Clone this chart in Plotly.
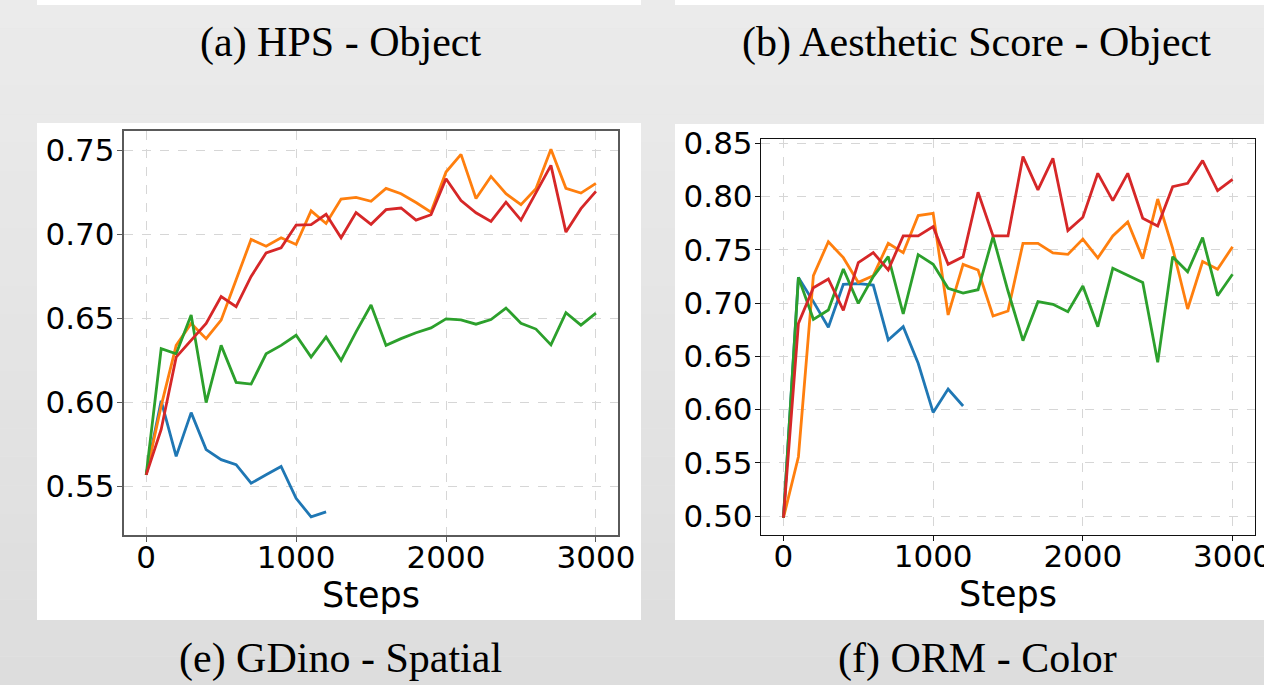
import plotly.graph_objects as go

# ---------------- data ----------------
steps = [i * 100 for i in range(31)]
series_names = ["blue", "orange", "green", "red"]
series_colors = ["#1f77b4", "#ff7f0e", "#2ca02c", "#d62728"]

# (e) GDino - Spatial
gdino_blue = [0.557, 0.601, 0.568, 0.594, 0.572, 0.566, 0.563, 0.552, 0.557, 0.562, 0.543, 0.532, 0.535]
gdino_orange = [0.557, 0.598, 0.634, 0.647, 0.638, 0.649, 0.673, 0.697, 0.693, 0.698, 0.694, 0.714, 0.7065,
                0.721, 0.722, 0.7197, 0.7274, 0.7242, 0.719, 0.7133, 0.7371, 0.7476, 0.7214, 0.7345, 0.7242,
                0.7177, 0.7272, 0.7506, 0.7274, 0.7246, 0.7304]
gdino_green = [0.557, 0.632, 0.629, 0.652, 0.600, 0.634, 0.612, 0.611, 0.629, 0.634, 0.640, 0.627, 0.639,
               0.625, 0.642, 0.658, 0.634, 0.638, 0.6415, 0.6444, 0.6498, 0.6492, 0.6466, 0.6494, 0.6562,
               0.6472, 0.6437, 0.6343, 0.6534, 0.646, 0.6532]
gdino_red = [0.557, 0.584, 0.627, 0.637, 0.647, 0.663, 0.657, 0.675, 0.689, 0.692, 0.7056, 0.7058, 0.712,
             0.698, 0.713, 0.706, 0.7147, 0.7157, 0.7085, 0.7117, 0.7331, 0.7202, 0.7129, 0.7077, 0.7192,
             0.7085, 0.7252, 0.7411, 0.7014, 0.7153, 0.7256]

# (f) ORM - Color
orm_blue = [0.4984, 0.7241, 0.7013, 0.6772, 0.7176, 0.7182, 0.7169, 0.6653, 0.6778, 0.6434, 0.5973, 0.6192, 0.6033]
orm_orange = [0.4984, 0.5557, 0.7257, 0.7576, 0.7426, 0.7194, 0.7257, 0.7561, 0.7473, 0.7821, 0.7843, 0.6888,
              0.7363, 0.731, 0.6878, 0.6925, 0.7561, 0.7561, 0.747, 0.7457, 0.7601, 0.7423, 0.763, 0.7761,
              0.7417, 0.7977, 0.7514, 0.6944, 0.7389, 0.7317, 0.7529]
orm_green = [0.4984, 0.7241, 0.6847, 0.6935, 0.732, 0.6997, 0.7248, 0.7435, 0.6897, 0.7454, 0.7363, 0.7138,
             0.7094, 0.7125, 0.7623, 0.7113, 0.6647, 0.7013, 0.6988, 0.6919, 0.716, 0.6778, 0.7326, 0.7257,
             0.7194, 0.6443, 0.7435, 0.7294, 0.7614, 0.7069, 0.727]
orm_red = [0.4984, 0.6809, 0.7144, 0.7226, 0.6931, 0.7379, 0.7473, 0.731, 0.763, 0.763, 0.7717, 0.7363,
           0.7435, 0.804, 0.763, 0.763, 0.8375, 0.8062, 0.8359, 0.768, 0.7805, 0.8218, 0.7961, 0.8218,
           0.7796, 0.7724, 0.8093, 0.8124, 0.8337, 0.8055, 0.8162]

x_ticks = [0, 1000, 2000, 3000]
gdino_yticks = [0.55, 0.60, 0.65, 0.70, 0.75]
orm_yticks = [0.50, 0.55, 0.60, 0.65, 0.70, 0.75, 0.80, 0.85]

top_captions = ["(a) HPS - Object", "(b) Aesthetic Score - Object"]
bottom_captions = ["(e) GDino - Spatial", "(f) ORM - Color"]
x_title = "Steps"

# ---------------- figure ----------------
W, H = 1264, 685
fig = go.Figure()

gdino = [gdino_blue, gdino_orange, gdino_green, gdino_red]
orm = [orm_blue, orm_orange, orm_green, orm_red]
for vals, col, nm in zip(gdino, series_colors, series_names):
    fig.add_trace(go.Scatter(x=steps[:len(vals)], y=vals, mode="lines", name=nm,
                             line=dict(color=col, width=2.8), xaxis="x", yaxis="y", showlegend=False))
for vals, col, nm in zip(orm, series_colors, series_names):
    fig.add_trace(go.Scatter(x=steps[:len(vals)], y=vals, mode="lines", name=nm,
                             line=dict(color=col, width=2.8), xaxis="x2", yaxis="y2", showlegend=False))

def px_x(p):
    return p / W

def px_y(p):
    return 1 - p / H

shapes = []
# background gradient (vertical bands)
n_bands = 24
for i in range(n_bands):
    t = i / (n_bands - 1)
    g = int(round(235 - 14 * t))
    shapes.append(dict(type="rect", xref="paper", yref="paper", layer="below",
                       x0=0, x1=1, y0=1 - (i + 1) / n_bands, y1=1 - i / n_bands,
                       fillcolor=f"rgb({g},{g},{g})", line=dict(width=0)))
# white panels
for (x0, x1, y0, y1) in [(37, 641, 0, 5), (675, 1264, 0, 5), (37, 641, 123, 620), (675, 1264, 124, 620)]:
    shapes.append(dict(type="rect", xref="paper", yref="paper", layer="below",
                       x0=px_x(x0), x1=px_x(x1), y0=px_y(y1), y1=px_y(y0),
                       fillcolor="white", line=dict(width=0)))

tick_font = dict(family="DejaVu Sans", size=31, color="black")
title_font = dict(family="DejaVu Sans", size=35, color="black")

common_x = dict(tickvals=x_ticks, ticks="outside", ticklen=5, tickwidth=1.2, automargin=False,
                showgrid=True, gridcolor="#d6d6d6", griddash="dash", gridwidth=1,
                zeroline=False, showline=True, mirror=True, tickfont=tick_font,
                ticklabeloverflow="allow", ticklabelstandoff=-11,
                title=dict(text=x_title, font=title_font, standoff=2), range=[-150, 3150])
common_y = dict(ticks="outside", ticklen=5, tickwidth=1.2, tickformat=".2f", automargin=False,
                showgrid=True, gridcolor="#d6d6d6", griddash="dash", gridwidth=1,
                zeroline=False, showline=True, mirror=True, tickfont=tick_font,
                ticklabelstandoff=-4)

fig.update_layout(
    width=W, height=H, autosize=False,
    margin=dict(l=0, r=0, t=0, b=0, pad=0, autoexpand=False),
    paper_bgcolor="#e6e6e6", plot_bgcolor="white",
    shapes=shapes,
    xaxis=dict(common_x, domain=[px_x(123.7), px_x(618.4)], anchor="y",
               linecolor="#5a5a5a", linewidth=2, tickcolor="#5a5a5a"),
    yaxis=dict(common_y, domain=[px_y(535), px_y(130.7)], anchor="x",
               tickvals=gdino_yticks, range=[0.5212, 0.7617],
               linecolor="#5a5a5a", linewidth=2, tickcolor="#5a5a5a"),
    xaxis2=dict(common_x, domain=[px_x(761), px_x(1255)], anchor="y2",
                linecolor="#111111", linewidth=1.4, tickcolor="#111111"),
    yaxis2=dict(common_y, domain=[px_y(535), px_y(138.7)], anchor="x2",
                tickvals=orm_yticks, range=[0.4822, 0.8543],
                linecolor="#111111", linewidth=1.4, tickcolor="#111111"),
)

cap_font = dict(family="Liberation Serif", size=42, color="black")
for txt, cx in zip(top_captions, [340, 976]):
    fig.add_annotation(text=txt, xref="paper", yref="paper", x=px_x(cx), y=px_y(43),
                       xanchor="center", yanchor="middle", showarrow=False, font=cap_font)
for txt, cx in zip(bottom_captions, [340, 977]):
    fig.add_annotation(text=txt, xref="paper", yref="paper", x=px_x(cx), y=px_y(658),
                       xanchor="center", yanchor="middle", showarrow=False, font=cap_font)

fig.write_html(
    "out.html",
    config={"displayModeBar": False},
    post_script="document.documentElement.style.margin='0';document.body.style.margin='0';"
                "document.body.style.padding='0';document.documentElement.style.overflow='hidden';"
                "document.body.style.overflow='hidden';",
)
